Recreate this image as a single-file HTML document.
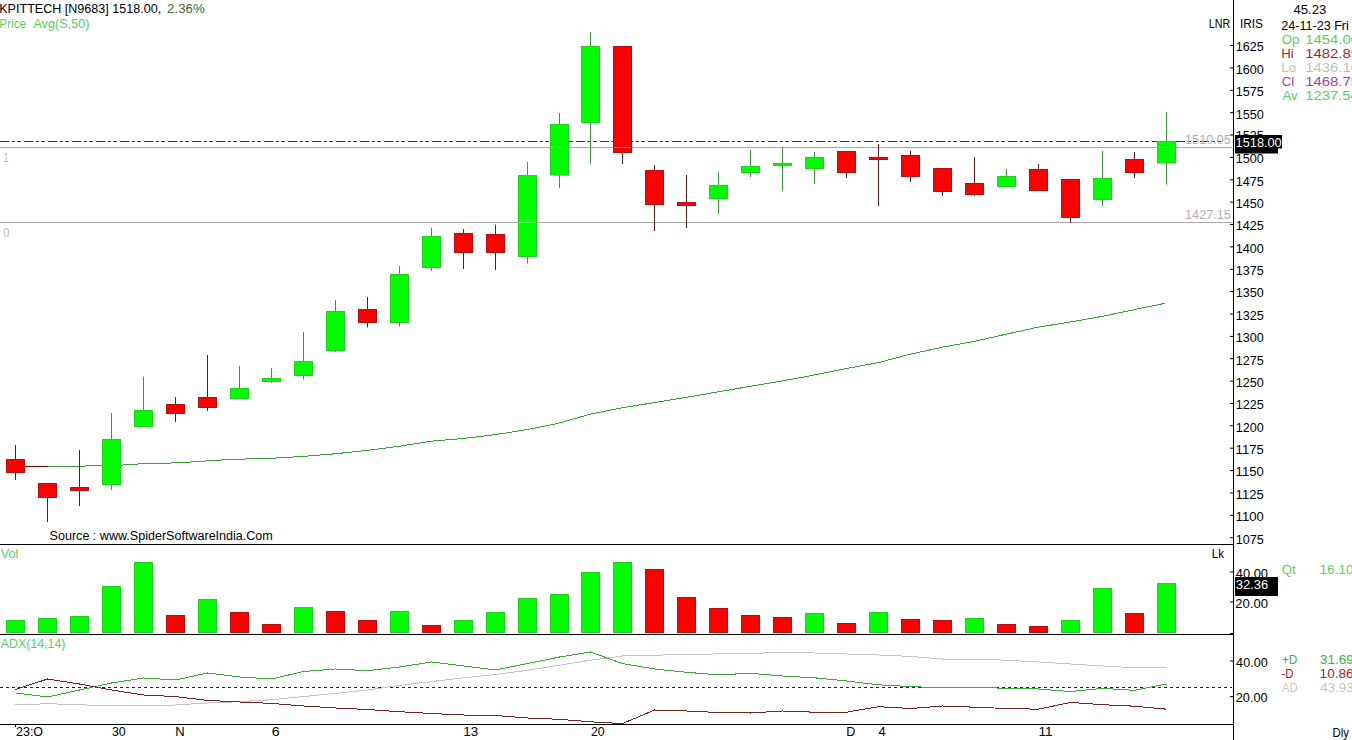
<!DOCTYPE html>
<html><head><meta charset="utf-8"><style>
html,body{margin:0;padding:0;background:#fff;width:1352px;height:740px;overflow:hidden}
svg{display:block;font-family:"Liberation Sans",sans-serif}
</style></head><body>
<svg width="1352" height="740" viewBox="0 0 1352 740">
<rect width="1352" height="740" fill="#fff"/>
<rect x="0" y="544" width="1233" height="1" fill="#000"/>
<rect x="0" y="634" width="1233" height="1" fill="#000"/>
<rect x="0" y="724" width="1233" height="1" fill="#000"/>
<rect x="1233" y="0" width="1" height="740" fill="#000"/>
<rect x="0" y="147" width="1232" height="1" fill="#a8a8a8"/>
<rect x="0" y="222" width="1232" height="1" fill="#a8a8a8"/>
<line x1="0" y1="141.5" x2="1222" y2="141.5" stroke="#2a3a2a" stroke-width="1" stroke-dasharray="9,2.5,3.5,2,4,3"/>
<polyline points="48,466.3 79,466.2 100,465.5 121,465.3 128,464.3 160,463.4 185,462.5 200,461.3 233,459.3 270,458.4 303,456.4 335,453.8 367,450.4 399,446.3 431,441.2 463,438.5 495,434.7 527,429.6 559,423.1 591,414 623,407.6 655,402.5 687,397.2 719,391.7 751,386.2 783,380.8 815,374.9 847,368.4 879,362.5 911,354 943,347.1 975,341.2 1007,334 1039,327 1071,321.9 1103,316.2 1135,309.5 1165,303.3" fill="none" stroke="#3aa03a" stroke-width="1" shape-rendering="crispEdges"/>
<line x1="25" y1="466.5" x2="48" y2="466.5" stroke="#6a1010" stroke-width="1.2"/>
<rect x="15" y="445" width="1" height="35" fill="#5e1a1a"/>
<rect x="6.5" y="459.5" width="18" height="13" fill="#ff0000" stroke="#b01010" stroke-width="1"/>
<rect x="47" y="483" width="1" height="39" fill="#5e1a1a"/>
<rect x="38.5" y="483.5" width="18" height="14" fill="#ff0000" stroke="#b01010" stroke-width="1"/>
<rect x="79" y="450" width="1" height="56" fill="#5e1a1a"/>
<rect x="70.5" y="487.5" width="18" height="3" fill="#ff0000" stroke="#b01010" stroke-width="1"/>
<rect x="111" y="413" width="1" height="77" fill="#3a9a3a"/>
<rect x="102.5" y="439.5" width="18" height="45" fill="#00ff00" stroke="#20d020" stroke-width="1"/>
<rect x="143" y="376.5" width="1" height="50.5" fill="#3a9a3a"/>
<rect x="134.5" y="410.5" width="18" height="16" fill="#00ff00" stroke="#20d020" stroke-width="1"/>
<rect x="175" y="397" width="1" height="25" fill="#5e1a1a"/>
<rect x="166.5" y="404.5" width="18" height="9" fill="#ff0000" stroke="#b01010" stroke-width="1"/>
<rect x="207" y="355" width="1" height="56" fill="#5e1a1a"/>
<rect x="198.5" y="397.5" width="18" height="10" fill="#ff0000" stroke="#b01010" stroke-width="1"/>
<rect x="239" y="366" width="1" height="33" fill="#3a9a3a"/>
<rect x="230.5" y="388.5" width="18" height="10" fill="#00ff00" stroke="#20d020" stroke-width="1"/>
<rect x="271" y="368" width="1" height="15" fill="#3a9a3a"/>
<rect x="262.5" y="378.5" width="18" height="3" fill="#00ff00" stroke="#20d020" stroke-width="1"/>
<rect x="303" y="332" width="1" height="47.5" fill="#3a9a3a"/>
<rect x="294.5" y="361.5" width="18" height="14" fill="#00ff00" stroke="#20d020" stroke-width="1"/>
<rect x="335" y="300" width="1" height="52" fill="#3a9a3a"/>
<rect x="326.5" y="311.5" width="18" height="39" fill="#00ff00" stroke="#20d020" stroke-width="1"/>
<rect x="367" y="297" width="1" height="30.5" fill="#5e1a1a"/>
<rect x="358.5" y="309.5" width="18" height="13" fill="#ff0000" stroke="#b01010" stroke-width="1"/>
<rect x="399" y="266" width="1" height="60.60000000000002" fill="#3a9a3a"/>
<rect x="390.5" y="274.5" width="18" height="48" fill="#00ff00" stroke="#20d020" stroke-width="1"/>
<rect x="431" y="227.6" width="1" height="43.400000000000006" fill="#3a9a3a"/>
<rect x="422.5" y="236.5" width="18" height="31" fill="#00ff00" stroke="#20d020" stroke-width="1"/>
<rect x="463" y="229" width="1" height="40" fill="#5e1a1a"/>
<rect x="454.5" y="233.5" width="18" height="19" fill="#ff0000" stroke="#b01010" stroke-width="1"/>
<rect x="495" y="224.6" width="1" height="45.400000000000006" fill="#5e1a1a"/>
<rect x="486.5" y="234.5" width="18" height="18" fill="#ff0000" stroke="#b01010" stroke-width="1"/>
<rect x="527" y="162" width="1" height="101.5" fill="#3a9a3a"/>
<rect x="518.5" y="175.5" width="18" height="81" fill="#00ff00" stroke="#20d020" stroke-width="1"/>
<rect x="559" y="113" width="1" height="75" fill="#3a9a3a"/>
<rect x="550.5" y="124.5" width="18" height="50.5" fill="#00ff00" stroke="#20d020" stroke-width="1"/>
<rect x="590" y="32" width="1" height="132" fill="#3a9a3a"/>
<rect x="581.5" y="46.5" width="18" height="76" fill="#00ff00" stroke="#20d020" stroke-width="1"/>
<rect x="622" y="46" width="1" height="118" fill="#5e1a1a"/>
<rect x="613.5" y="46.5" width="18" height="106" fill="#ff0000" stroke="#b01010" stroke-width="1"/>
<rect x="654" y="165" width="1" height="66" fill="#5e1a1a"/>
<rect x="645.5" y="170.5" width="18" height="34" fill="#ff0000" stroke="#b01010" stroke-width="1"/>
<rect x="686" y="175" width="1" height="53" fill="#5e1a1a"/>
<rect x="677.5" y="202.5" width="18" height="3" fill="#ff0000" stroke="#b01010" stroke-width="1"/>
<rect x="718" y="172" width="1" height="42" fill="#3a9a3a"/>
<rect x="709.5" y="185.5" width="18" height="13" fill="#00ff00" stroke="#20d020" stroke-width="1"/>
<rect x="750" y="150" width="1" height="27" fill="#3a9a3a"/>
<rect x="741.5" y="166.5" width="18" height="6" fill="#00ff00" stroke="#20d020" stroke-width="1"/>
<rect x="782" y="147" width="1" height="44" fill="#3a9a3a"/>
<rect x="773.5" y="163.5" width="18" height="2" fill="#00ff00" stroke="#20d020" stroke-width="1"/>
<rect x="814" y="152" width="1" height="32" fill="#3a9a3a"/>
<rect x="805.5" y="157.5" width="18" height="11" fill="#00ff00" stroke="#20d020" stroke-width="1"/>
<rect x="846" y="151" width="1" height="27" fill="#5e1a1a"/>
<rect x="837.5" y="151.5" width="18" height="21" fill="#ff0000" stroke="#b01010" stroke-width="1"/>
<rect x="878" y="144" width="1" height="62" fill="#5e1a1a"/>
<rect x="869.5" y="157.5" width="18" height="2" fill="#ff0000" stroke="#b01010" stroke-width="1"/>
<rect x="910" y="151" width="1" height="31" fill="#5e1a1a"/>
<rect x="901.5" y="155.5" width="18" height="21" fill="#ff0000" stroke="#b01010" stroke-width="1"/>
<rect x="942" y="168" width="1" height="28" fill="#5e1a1a"/>
<rect x="933.5" y="168.5" width="18" height="23" fill="#ff0000" stroke="#b01010" stroke-width="1"/>
<rect x="974" y="157" width="1" height="39" fill="#5e1a1a"/>
<rect x="965.5" y="183.5" width="18" height="11" fill="#ff0000" stroke="#b01010" stroke-width="1"/>
<rect x="1006" y="169" width="1" height="18" fill="#3a9a3a"/>
<rect x="997.5" y="176.5" width="18" height="10" fill="#00ff00" stroke="#20d020" stroke-width="1"/>
<rect x="1038" y="164" width="1" height="27" fill="#5e1a1a"/>
<rect x="1029.5" y="169.5" width="18" height="21" fill="#ff0000" stroke="#b01010" stroke-width="1"/>
<rect x="1070" y="179" width="1" height="44" fill="#5e1a1a"/>
<rect x="1061.5" y="179.5" width="18" height="38" fill="#ff0000" stroke="#b01010" stroke-width="1"/>
<rect x="1102" y="151" width="1" height="55" fill="#3a9a3a"/>
<rect x="1093.5" y="178.5" width="18" height="21" fill="#00ff00" stroke="#20d020" stroke-width="1"/>
<rect x="1134" y="152" width="1" height="26" fill="#5e1a1a"/>
<rect x="1125.5" y="159.5" width="18" height="13" fill="#ff0000" stroke="#b01010" stroke-width="1"/>
<rect x="1166" y="112" width="1" height="72.5" fill="#3a9a3a"/>
<rect x="1157.5" y="141.5" width="18" height="21.5" fill="#00ff00" stroke="#20d020" stroke-width="1"/>
<rect x="519" y="222" width="17" height="1" fill="#70ff70"/>
<rect x="551" y="147" width="17" height="1" fill="#70ff70"/>
<rect x="614" y="147" width="17" height="1" fill="#ff7a6a"/>
<rect x="1158" y="147" width="17" height="1" fill="#70ff70"/>
<rect x="6.5" y="620.5" width="18" height="12" fill="#00ff00" stroke="#20d020" stroke-width="1"/>
<rect x="38.5" y="618.5" width="18" height="14" fill="#00ff00" stroke="#20d020" stroke-width="1"/>
<rect x="70.5" y="616.5" width="18" height="16" fill="#00ff00" stroke="#20d020" stroke-width="1"/>
<rect x="102.5" y="586.5" width="18" height="46" fill="#00ff00" stroke="#20d020" stroke-width="1"/>
<rect x="134.5" y="562.5" width="18" height="70" fill="#00ff00" stroke="#20d020" stroke-width="1"/>
<rect x="166.5" y="615.5" width="18" height="17" fill="#ff0000" stroke="#b01010" stroke-width="1"/>
<rect x="198.5" y="599.5" width="18" height="33" fill="#00ff00" stroke="#20d020" stroke-width="1"/>
<rect x="230.5" y="612.5" width="18" height="20" fill="#ff0000" stroke="#b01010" stroke-width="1"/>
<rect x="262.5" y="624.5" width="18" height="8" fill="#ff0000" stroke="#b01010" stroke-width="1"/>
<rect x="294.5" y="607.5" width="18" height="25" fill="#00ff00" stroke="#20d020" stroke-width="1"/>
<rect x="326.5" y="611.5" width="18" height="21" fill="#ff0000" stroke="#b01010" stroke-width="1"/>
<rect x="358.5" y="620.5" width="18" height="12" fill="#ff0000" stroke="#b01010" stroke-width="1"/>
<rect x="390.5" y="611.5" width="18" height="21" fill="#00ff00" stroke="#20d020" stroke-width="1"/>
<rect x="422.5" y="625.5" width="18" height="7" fill="#ff0000" stroke="#b01010" stroke-width="1"/>
<rect x="454.5" y="620.5" width="18" height="12" fill="#00ff00" stroke="#20d020" stroke-width="1"/>
<rect x="486.5" y="612.5" width="18" height="20" fill="#00ff00" stroke="#20d020" stroke-width="1"/>
<rect x="518.5" y="598.5" width="18" height="34" fill="#00ff00" stroke="#20d020" stroke-width="1"/>
<rect x="550.5" y="594.5" width="18" height="38" fill="#00ff00" stroke="#20d020" stroke-width="1"/>
<rect x="581.5" y="572.5" width="18" height="60" fill="#00ff00" stroke="#20d020" stroke-width="1"/>
<rect x="613.5" y="562.5" width="18" height="70" fill="#00ff00" stroke="#20d020" stroke-width="1"/>
<rect x="645.5" y="569.5" width="18" height="63" fill="#ff0000" stroke="#b01010" stroke-width="1"/>
<rect x="677.5" y="597.5" width="18" height="35" fill="#ff0000" stroke="#b01010" stroke-width="1"/>
<rect x="709.5" y="608.5" width="18" height="24" fill="#ff0000" stroke="#b01010" stroke-width="1"/>
<rect x="741.5" y="615.5" width="18" height="17" fill="#ff0000" stroke="#b01010" stroke-width="1"/>
<rect x="773.5" y="617.5" width="18" height="15" fill="#ff0000" stroke="#b01010" stroke-width="1"/>
<rect x="805.5" y="613.5" width="18" height="19" fill="#00ff00" stroke="#20d020" stroke-width="1"/>
<rect x="837.5" y="623.5" width="18" height="9" fill="#ff0000" stroke="#b01010" stroke-width="1"/>
<rect x="869.5" y="612.5" width="18" height="20" fill="#00ff00" stroke="#20d020" stroke-width="1"/>
<rect x="901.5" y="619.5" width="18" height="13" fill="#ff0000" stroke="#b01010" stroke-width="1"/>
<rect x="933.5" y="620.5" width="18" height="12" fill="#ff0000" stroke="#b01010" stroke-width="1"/>
<rect x="965.5" y="618.5" width="18" height="14" fill="#00ff00" stroke="#20d020" stroke-width="1"/>
<rect x="997.5" y="624.5" width="18" height="8" fill="#ff0000" stroke="#b01010" stroke-width="1"/>
<rect x="1029.5" y="626.5" width="18" height="6" fill="#ff0000" stroke="#b01010" stroke-width="1"/>
<rect x="1061.5" y="620.5" width="18" height="12" fill="#00ff00" stroke="#20d020" stroke-width="1"/>
<rect x="1093.5" y="588.5" width="18" height="44" fill="#00ff00" stroke="#20d020" stroke-width="1"/>
<rect x="1125.5" y="613.5" width="18" height="19" fill="#ff0000" stroke="#b01010" stroke-width="1"/>
<rect x="1157.5" y="583.5" width="18" height="49" fill="#00ff00" stroke="#20d020" stroke-width="1"/>
<line x1="0" y1="687.5" x2="1232" y2="687.5" stroke="#222" stroke-width="1" stroke-dasharray="3,3"/>
<polyline points="15.5,705 47.5,703.7 79.5,704.7 111.5,706 143.5,705.5 175.5,705 207.5,703 239.5,701.7 271.5,699.7 303.5,696.6 335.5,693.4 367.5,690 399.5,685.3 431.5,681.6 463.5,677.8 495.5,674.5 527.5,670.2 559.5,665.2 590.5,660.2 622.5,656 654.5,655.2 686.5,654.5 718.5,653.9 750.5,653.3 782.5,652.6 814.5,653 846.5,654 878.5,655 910.5,656.4 942.5,659 974.5,659 1006.5,660.2 1038.5,662 1070.5,664 1102.5,666 1134.5,667.7 1166.5,667.2" fill="none" stroke="#c4c4c4" stroke-width="1" shape-rendering="crispEdges"/>
<polyline points="15.5,693 47.5,697 79.5,690 111.5,683 143.5,678 175.5,680 207.5,673 239.5,677 271.5,679 303.5,671.5 335.5,669 367.5,670.7 399.5,667 431.5,662 463.5,666 495.5,670 527.5,663.5 559.5,657 590.5,652 622.5,663.5 654.5,669 686.5,672.3 718.5,674.8 750.5,673.3 782.5,676 814.5,677.8 846.5,681 878.5,684.8 910.5,686.6 942.5,687.8 974.5,687.3 1006.5,688.3 1038.5,689 1070.5,691.6 1102.5,688.3 1134.5,690.4 1166.5,684" fill="none" stroke="#3ca83c" stroke-width="1" shape-rendering="crispEdges"/>
<polyline points="15.5,689.6 47.5,679 79.5,684 111.5,690 143.5,695 175.5,696.6 207.5,700.4 239.5,702 271.5,703.4 303.5,706 335.5,708 367.5,709.5 399.5,711.7 431.5,713.5 463.5,715 495.5,715.5 527.5,718 559.5,719.3 590.5,721.8 622.5,723.6 654.5,710 686.5,711 718.5,712.5 750.5,713 782.5,711 814.5,712.2 846.5,712.2 878.5,706.7 910.5,708.5 942.5,706 974.5,707.2 1006.5,708.5 1038.5,709.2 1070.5,702.4 1102.5,704.7 1134.5,706.2 1166.5,709.2" fill="none" stroke="#702424" stroke-width="1" shape-rendering="crispEdges"/>
<rect x="1230" y="537.2" width="4" height="1" fill="#000"/>
<rect x="1230" y="514.8" width="4" height="1" fill="#000"/>
<rect x="1230" y="492.5" width="4" height="1" fill="#000"/>
<rect x="1230" y="470.1" width="4" height="1" fill="#000"/>
<rect x="1230" y="447.7" width="4" height="1" fill="#000"/>
<rect x="1230" y="425.3" width="4" height="1" fill="#000"/>
<rect x="1230" y="403.0" width="4" height="1" fill="#000"/>
<rect x="1230" y="380.6" width="4" height="1" fill="#000"/>
<rect x="1230" y="358.2" width="4" height="1" fill="#000"/>
<rect x="1230" y="335.9" width="4" height="1" fill="#000"/>
<rect x="1230" y="313.5" width="4" height="1" fill="#000"/>
<rect x="1230" y="291.1" width="4" height="1" fill="#000"/>
<rect x="1230" y="268.8" width="4" height="1" fill="#000"/>
<rect x="1230" y="246.4" width="4" height="1" fill="#000"/>
<rect x="1230" y="224.0" width="4" height="1" fill="#000"/>
<rect x="1230" y="201.6" width="4" height="1" fill="#000"/>
<rect x="1230" y="179.3" width="4" height="1" fill="#000"/>
<rect x="1230" y="156.9" width="4" height="1" fill="#000"/>
<rect x="1230" y="134.5" width="4" height="1" fill="#000"/>
<rect x="1230" y="112.2" width="4" height="1" fill="#000"/>
<rect x="1230" y="89.8" width="4" height="1" fill="#000"/>
<rect x="1230" y="67.4" width="4" height="1" fill="#000"/>
<rect x="1230" y="45.0" width="4" height="1" fill="#000"/>
<rect x="1230" y="571.5" width="4" height="1" fill="#000"/>
<rect x="1230" y="601.5" width="4" height="1" fill="#000"/>
<rect x="1230" y="633.0" width="4" height="1" fill="#000"/>
<rect x="1230" y="660.5" width="4" height="1" fill="#000"/>
<rect x="1230" y="696.1" width="4" height="1" fill="#000"/>
<rect x="15" y="724" width="1" height="3" fill="#000"/>
<text x="-0.75" y="13" fill="#000" font-size="12" textLength="161.90" lengthAdjust="spacingAndGlyphs" xml:space="preserve">KPITTECH [N9683] 1518.00,</text>
<text x="167.14" y="13" fill="#356a35" font-size="12" textLength="37.53" lengthAdjust="spacingAndGlyphs" xml:space="preserve">2.36%</text>
<text x="-0.68" y="28" fill="#5ccc5c" font-size="12" textLength="26.70" lengthAdjust="spacingAndGlyphs" xml:space="preserve">Price</text>
<text x="33.40" y="28" fill="#5ccc5c" font-size="12" textLength="56.08" lengthAdjust="spacingAndGlyphs" xml:space="preserve">Avg(S,50)</text>
<text x="3.51" y="162" fill="#b8b8b8" font-size="12" textLength="5.13" lengthAdjust="spacingAndGlyphs" xml:space="preserve">1</text>
<text x="3.29" y="237.4" fill="#b8b8b8" font-size="12" textLength="6.04" lengthAdjust="spacingAndGlyphs" xml:space="preserve">0</text>
<text x="1185.05" y="143.6" fill="#b0b0b0" font-size="12" textLength="45.86" lengthAdjust="spacingAndGlyphs" xml:space="preserve">1510.05</text>
<text x="1185.05" y="218.7" fill="#b0b0b0" font-size="12" textLength="45.86" lengthAdjust="spacingAndGlyphs" xml:space="preserve">1427.15</text>
<text x="49.62" y="540" fill="#000" font-size="12" textLength="223.20" lengthAdjust="spacingAndGlyphs" xml:space="preserve">Source : www.SpiderSoftwareIndia.Com</text>
<text x="0.65" y="558" fill="#5ccc5c" font-size="12" textLength="17.74" lengthAdjust="spacingAndGlyphs" xml:space="preserve">Vol</text>
<text x="0.70" y="648" fill="#5ccc5c" font-size="12" textLength="64.77" lengthAdjust="spacingAndGlyphs" xml:space="preserve">ADX(14,14)</text>
<text x="1211.73" y="557.6" fill="#000" font-size="12" textLength="12.29" lengthAdjust="spacingAndGlyphs" xml:space="preserve">Lk</text>
<text x="1235.65" y="543.5" fill="#000" font-size="12" textLength="28.07" lengthAdjust="spacingAndGlyphs" xml:space="preserve">1075</text>
<text x="1235.62" y="521.1" fill="#000" font-size="12" textLength="28.08" lengthAdjust="spacingAndGlyphs" xml:space="preserve">1100</text>
<text x="1235.62" y="498.8" fill="#000" font-size="12" textLength="28.08" lengthAdjust="spacingAndGlyphs" xml:space="preserve">1125</text>
<text x="1235.62" y="476.4" fill="#000" font-size="12" textLength="28.08" lengthAdjust="spacingAndGlyphs" xml:space="preserve">1150</text>
<text x="1235.62" y="454.0" fill="#000" font-size="12" textLength="28.08" lengthAdjust="spacingAndGlyphs" xml:space="preserve">1175</text>
<text x="1235.65" y="431.6" fill="#000" font-size="12" textLength="28.07" lengthAdjust="spacingAndGlyphs" xml:space="preserve">1200</text>
<text x="1235.65" y="409.3" fill="#000" font-size="12" textLength="28.07" lengthAdjust="spacingAndGlyphs" xml:space="preserve">1225</text>
<text x="1235.65" y="386.9" fill="#000" font-size="12" textLength="28.07" lengthAdjust="spacingAndGlyphs" xml:space="preserve">1250</text>
<text x="1235.65" y="364.5" fill="#000" font-size="12" textLength="28.07" lengthAdjust="spacingAndGlyphs" xml:space="preserve">1275</text>
<text x="1235.65" y="342.2" fill="#000" font-size="12" textLength="28.07" lengthAdjust="spacingAndGlyphs" xml:space="preserve">1300</text>
<text x="1235.65" y="319.8" fill="#000" font-size="12" textLength="28.07" lengthAdjust="spacingAndGlyphs" xml:space="preserve">1325</text>
<text x="1235.65" y="297.4" fill="#000" font-size="12" textLength="28.07" lengthAdjust="spacingAndGlyphs" xml:space="preserve">1350</text>
<text x="1235.65" y="275.1" fill="#000" font-size="12" textLength="28.07" lengthAdjust="spacingAndGlyphs" xml:space="preserve">1375</text>
<text x="1235.65" y="252.7" fill="#000" font-size="12" textLength="28.07" lengthAdjust="spacingAndGlyphs" xml:space="preserve">1400</text>
<text x="1235.65" y="230.3" fill="#000" font-size="12" textLength="28.07" lengthAdjust="spacingAndGlyphs" xml:space="preserve">1425</text>
<text x="1235.65" y="207.9" fill="#000" font-size="12" textLength="28.07" lengthAdjust="spacingAndGlyphs" xml:space="preserve">1450</text>
<text x="1235.65" y="185.6" fill="#000" font-size="12" textLength="28.07" lengthAdjust="spacingAndGlyphs" xml:space="preserve">1475</text>
<text x="1235.65" y="163.2" fill="#000" font-size="12" textLength="28.07" lengthAdjust="spacingAndGlyphs" xml:space="preserve">1500</text>
<text x="1235.65" y="118.5" fill="#000" font-size="12" textLength="28.07" lengthAdjust="spacingAndGlyphs" xml:space="preserve">1550</text>
<text x="1235.65" y="96.1" fill="#000" font-size="12" textLength="28.07" lengthAdjust="spacingAndGlyphs" xml:space="preserve">1575</text>
<text x="1235.65" y="73.7" fill="#000" font-size="12" textLength="28.07" lengthAdjust="spacingAndGlyphs" xml:space="preserve">1600</text>
<text x="1235.65" y="51.3" fill="#000" font-size="12" textLength="28.07" lengthAdjust="spacingAndGlyphs" xml:space="preserve">1625</text>
<text x="1235.65" y="140.2" fill="#000" font-size="12" textLength="28.07" lengthAdjust="spacingAndGlyphs" xml:space="preserve">1525</text>
<rect x="1235" y="135" width="47" height="13.5" fill="#000"/>
<rect x="1235" y="148" width="43" height="5.5" fill="#000"/>
<text x="1235.64" y="147" fill="#fff" font-size="12" textLength="46.07" lengthAdjust="spacingAndGlyphs" xml:space="preserve">1518.00</text>
<text x="1235.73" y="578" fill="#000" font-size="12" textLength="32.29" lengthAdjust="spacingAndGlyphs" xml:space="preserve">40.00</text>
<rect x="1235" y="577" width="43" height="19" fill="#000"/>
<text x="1235.71" y="588.5" fill="#fff" font-size="12" textLength="32.56" lengthAdjust="spacingAndGlyphs" xml:space="preserve">32.36</text>
<text x="1235.35" y="607.5" fill="#000" font-size="12" textLength="32.68" lengthAdjust="spacingAndGlyphs" xml:space="preserve">20.00</text>
<text x="1236.14" y="667" fill="#000" font-size="12" textLength="31.57" lengthAdjust="spacingAndGlyphs" xml:space="preserve">40.00</text>
<text x="1235.76" y="701.8" fill="#000" font-size="12" textLength="31.95" lengthAdjust="spacingAndGlyphs" xml:space="preserve">20.00</text>
<text x="1208.80" y="28" fill="#000" font-size="12" textLength="21.49" lengthAdjust="spacingAndGlyphs" xml:space="preserve">LNR</text>
<text x="1239.92" y="28" fill="#000" font-size="12" textLength="23.02" lengthAdjust="spacingAndGlyphs" xml:space="preserve">IRIS</text>
<text x="1293.53" y="13.7" fill="#000" font-size="12" textLength="32.75" lengthAdjust="spacingAndGlyphs" xml:space="preserve">45.23</text>
<text x="1281.27" y="29.7" fill="#000" font-size="12" textLength="67.59" lengthAdjust="spacingAndGlyphs" xml:space="preserve">24-11-23 Fri</text>
<text x="1281.80" y="44" fill="#5ccc5c" font-size="12" textLength="17.61" lengthAdjust="spacingAndGlyphs" xml:space="preserve">Op</text>
<text x="1305.29" y="44" fill="#5ccc5c" font-size="12" textLength="53.71" lengthAdjust="spacingAndGlyphs" xml:space="preserve">1454.00</text>
<text x="1281.30" y="57.8" fill="#a02828" font-size="12" textLength="12.47" lengthAdjust="spacingAndGlyphs" xml:space="preserve">Hi</text>
<text x="1305.29" y="57.8" fill="#a02828" font-size="12" textLength="53.71" lengthAdjust="spacingAndGlyphs" xml:space="preserve">1482.85</text>
<text x="1281.30" y="71.8" fill="#c0c0c0" font-size="12" textLength="14.68" lengthAdjust="spacingAndGlyphs" xml:space="preserve">Lo</text>
<text x="1305.29" y="71.8" fill="#c0c0c0" font-size="12" textLength="53.71" lengthAdjust="spacingAndGlyphs" xml:space="preserve">1436.10</text>
<text x="1281.74" y="85.8" fill="#a040a8" font-size="12" textLength="12.47" lengthAdjust="spacingAndGlyphs" xml:space="preserve">Cl</text>
<text x="1305.29" y="85.8" fill="#a040a8" font-size="12" textLength="53.71" lengthAdjust="spacingAndGlyphs" xml:space="preserve">1468.75</text>
<text x="1282.40" y="99.6" fill="#5ccc5c" font-size="12" textLength="15.17" lengthAdjust="spacingAndGlyphs" xml:space="preserve">Av</text>
<text x="1305.29" y="99.6" fill="#5ccc5c" font-size="12" textLength="53.52" lengthAdjust="spacingAndGlyphs" xml:space="preserve">1237.54</text>
<text x="1281.69" y="574.3" fill="#5ccc5c" font-size="12" textLength="14.09" lengthAdjust="spacingAndGlyphs" xml:space="preserve">Qt</text>
<text x="1319.58" y="574.3" fill="#5ccc5c" font-size="12" textLength="33.96" lengthAdjust="spacingAndGlyphs" xml:space="preserve">16.10</text>
<text x="1282.01" y="663.6" fill="#40b040" font-size="12" textLength="15.35" lengthAdjust="spacingAndGlyphs" xml:space="preserve">+D</text>
<text x="1320.10" y="663.6" fill="#40b040" font-size="12" textLength="33.55" lengthAdjust="spacingAndGlyphs" xml:space="preserve">31.69</text>
<text x="1281.42" y="677.7" fill="#a02828" font-size="12" textLength="12.12" lengthAdjust="spacingAndGlyphs" xml:space="preserve">-D</text>
<text x="1319.58" y="677.7" fill="#a02828" font-size="12" textLength="34.02" lengthAdjust="spacingAndGlyphs" xml:space="preserve">10.86</text>
<text x="1281.90" y="691.5" fill="#c8c8c8" font-size="12" textLength="15.74" lengthAdjust="spacingAndGlyphs" xml:space="preserve">AD</text>
<text x="1320.32" y="691.5" fill="#c8c8c8" font-size="12" textLength="33.27" lengthAdjust="spacingAndGlyphs" xml:space="preserve">43.93</text>
<text x="1332.55" y="736.8" fill="#000" font-size="12" textLength="16.43" lengthAdjust="spacingAndGlyphs" xml:space="preserve">Dly</text>
<text x="15.97" y="735.7" fill="#000" font-size="12" textLength="27.12" lengthAdjust="spacingAndGlyphs" xml:space="preserve">23:O</text>
<text x="111.93" y="735.7" fill="#000" font-size="12" textLength="13.89" lengthAdjust="spacingAndGlyphs" xml:space="preserve">30</text>
<text x="175.31" y="735.7" fill="#000" font-size="12" textLength="9.44" lengthAdjust="spacingAndGlyphs" xml:space="preserve">N</text>
<text x="271.79" y="735.7" fill="#000" font-size="12" textLength="7.94" lengthAdjust="spacingAndGlyphs" xml:space="preserve">6</text>
<text x="463.39" y="735.7" fill="#000" font-size="12" textLength="14.92" lengthAdjust="spacingAndGlyphs" xml:space="preserve">13</text>
<text x="590.98" y="735.7" fill="#000" font-size="12" textLength="13.73" lengthAdjust="spacingAndGlyphs" xml:space="preserve">20</text>
<text x="846.34" y="735.7" fill="#000" font-size="12" textLength="9.15" lengthAdjust="spacingAndGlyphs" xml:space="preserve">D</text>
<text x="878.53" y="735.7" fill="#000" font-size="12" textLength="7.22" lengthAdjust="spacingAndGlyphs" xml:space="preserve">4</text>
<text x="1038.49" y="735.7" fill="#000" font-size="12" textLength="14.04" lengthAdjust="spacingAndGlyphs" xml:space="preserve">11</text>
</svg>
</body></html>
